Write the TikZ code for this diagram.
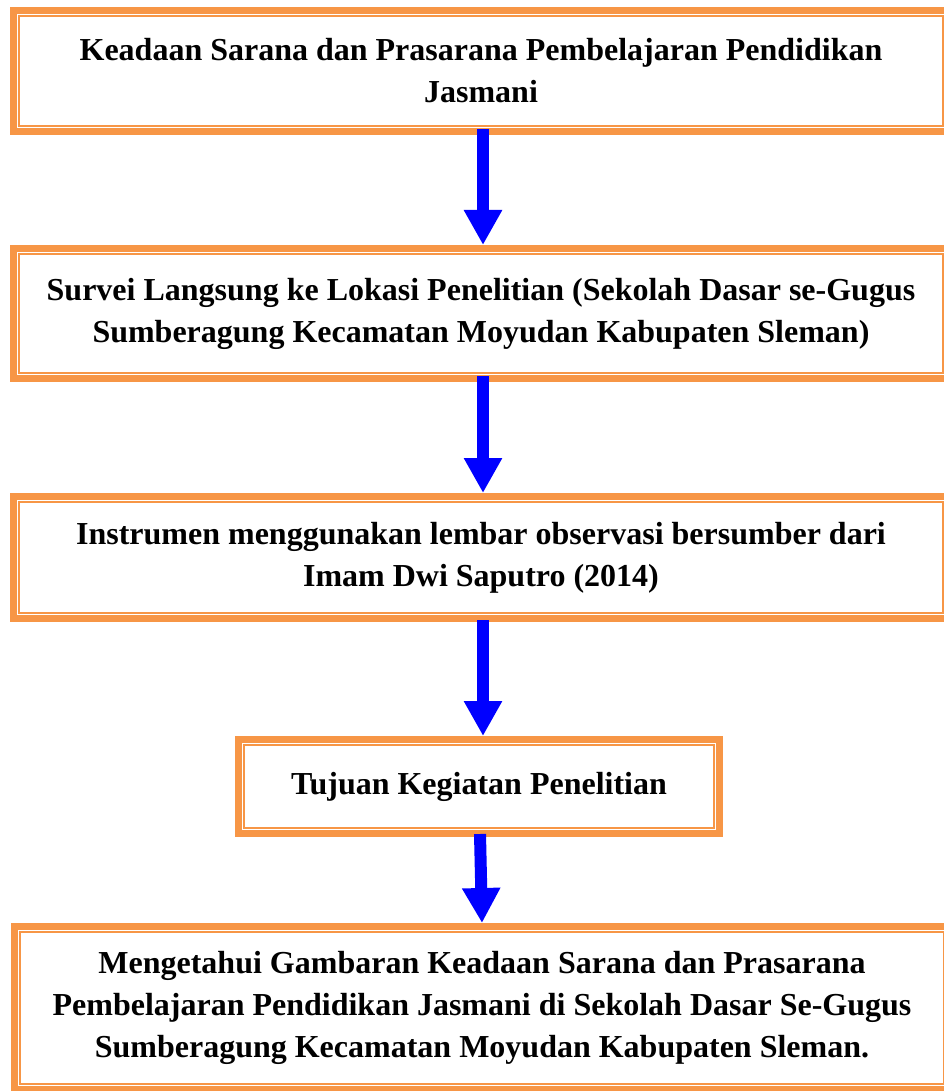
\documentclass[tikz,border=0pt]{standalone}
\usepackage{fontspec}
\setmainfont{Liberation Serif}
\usetikzlibrary{arrows.meta}
\definecolor{boxorange}{HTML}{F79646}
\definecolor{arrowblue}{HTML}{0000FF}
\tikzset{
  flowbox/.style={draw=boxorange, line width=7pt, rectangle, align=center,
    inner sep=0pt, font=\fontsize{32}{42}\selectfont\bfseries, text=black},
  innerline/.style={draw=boxorange, line width=2.5pt},
  flowarrow/.style={draw=arrowblue, line width=12pt,
    -{Triangle[width=36pt,length=35pt]}}
}
\begin{document}
\begin{tikzpicture}[x=1pt,y=-1pt]
\useasboundingbox (0,0) rectangle (943,1091);
\node[flowbox, minimum width=935pt, minimum height=121pt] (a) at (481,71)
  {Keadaan Sarana dan Prasarana Pembelajaran Pendidikan\\Jasmani};
\node[flowbox, minimum width=935pt, minimum height=130pt] (b) at (481,313.5)
  {Survei Langsung ke Lokasi Penelitian (Sekolah Dasar se-Gugus\\Sumberagung Kecamatan Moyudan Kabupaten Sleman)};
\node[flowbox, minimum width=935pt, minimum height=122pt] (c) at (481,557.5)
  {Instrumen menggunakan lembar observasi bersumber dari\\Imam Dwi Saputro (2014)};
\node[flowbox, minimum width=481pt, minimum height=94pt] (d) at (479,786.5)
  {Tujuan Kegiatan Penelitian};
\node[flowbox, minimum width=935pt, minimum height=163pt] (e) at (482,1008)
  {Mengetahui Gambaran Keadaan Sarana dan Prasarana\\Pembelajaran Pendidikan Jasmani di Sekolah Dasar Se-Gugus\\Sumberagung Kecamatan Moyudan Kabupaten Sleman.};
\foreach \n in {a,b,c,d,e}
  \draw[innerline] ([xshift=9pt,yshift=-9pt]\n.north west) rectangle ([xshift=-9pt,yshift=9pt]\n.south east);
\coordinate (a1) at (483,129);
\coordinate (b1) at (483,376);
\coordinate (c1) at (483,620);
\coordinate (d1) at (480,834);
\draw[flowarrow] (a1) -- (b.north -| a1);
\draw[flowarrow] (b1) -- (c.north -| b1);
\draw[flowarrow] (c1) -- (d.north -| c1);
\draw[flowarrow] (d1) -- ([xshift=2pt]e.north -| d1);
\end{tikzpicture}
\end{document}
